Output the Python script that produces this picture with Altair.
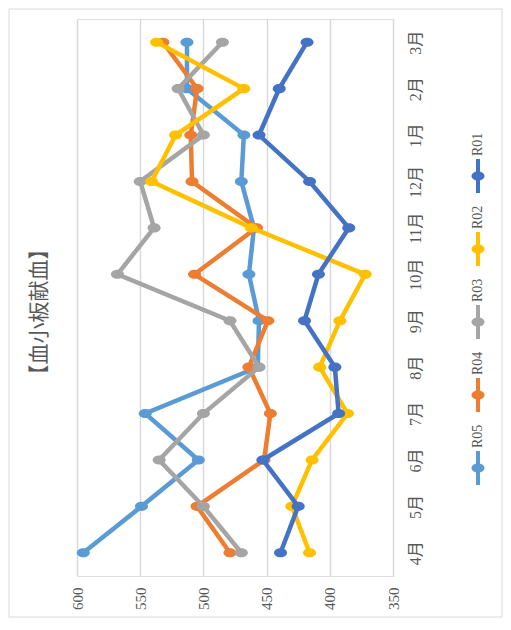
import altair as alt
import pandas as pd

# ---- data ----
months = ["4月", "5月", "6月", "7月", "8月", "9月", "10月", "11月", "12月", "1月", "2月", "3月"]
series = ["R01", "R02", "R03", "R04", "R05"]
colors = ["#4472C4", "#FFC000", "#A5A5A5", "#ED7D31", "#5B9BD5"]
r01 = [439, 425, 453, 393, 396, 420, 409, 385, 416, 456, 440, 418]
r02 = [416, 430, 414, 386, 408, 392, 372, 462, 541, 522, 468, 537]
r03 = [470, 500, 535, 500, 456, 479, 568, 539, 550, 500, 520, 485]
r04 = [479, 505, 452, 447, 464, 449, 507, 458, 509, 510, 505, 532]
r05 = [595, 549, 504, 546, 457, 456, 464, 460, 470, 468, 513, 513]
value_ticks = [350, 400, 450, 500, 550, 600]
title_text = "【血小板献血】"

values = {"R01": r01, "R02": r02, "R03": r03, "R04": r04, "R05": r05}
rows = []
for s in series:
    for i, (m, v) in enumerate(zip(months, values[s])):
        rows.append({"series": s, "month": m, "mi": i, "value": v})
df = pd.DataFrame(rows)

FONT = "Liberation Serif, Noto Sans CJK JP"
LABEL = "#595959"
W, H = 316, 557
ELLIPSE = "M-1,0A1,0.7,0,1,1,1,0A1,0.7,0,1,1,-1,0Z"

x_enc = alt.X(
    "value:Q",
    scale=alt.Scale(domain=[350, 600], reverse=True, nice=False, zero=False),
    axis=alt.Axis(values=value_ticks, grid=True, gridColor="#d9d9d9", gridWidth=1.5,
                  domain=False, ticks=False, labelAngle=270, labelAlign="right",
                  labelBaseline="middle", labelPadding=11, labelFontSize=15,
                  labelColor=LABEL, labelFont=FONT, title=None),
)
y_enc = alt.Y(
    "month:N",
    sort=months[::-1],
    scale=alt.Scale(type="point", padding=0.5),
    axis=alt.Axis(orient="right", labelAngle=270, labelAlign="center", labelBaseline="top",
                  labelPadding=14, domain=False, ticks=False, grid=False, labelFontSize=16,
                  labelColor=LABEL, labelFont=FONT, title=None),
)

layers = []

frame = alt.Chart(pd.DataFrame({"k": [0]})).mark_rect(
    fill="transparent", stroke="#d9d9d9", strokeWidth=1
).encode(x=alt.value(-68), x2=alt.value(425), y=alt.value(-10), y2=alt.value(598))
layers.append(frame)

title = alt.Chart(pd.DataFrame({"t": [title_text]})).mark_text(
    angle=270, fontSize=21, font=FONT, color=LABEL, align="center", baseline="middle"
).encode(x=alt.value(-37), y=alt.value(293), text="t:N")
layers.append(title)

for s, c in reversed(list(zip(series, colors))):
    sub = df[df.series == s]
    base = alt.Chart(sub).encode(x=x_enc, y=y_enc, order=alt.Order("mi:Q"))
    layers.append(base.mark_line(color=c, strokeWidth=4.5))
    layers.append(base.mark_point(shape=ELLIPSE, size=169, filled=True, color=c, opacity=1))

# legend (rotated, drawn by hand)
leg = pd.DataFrame({"series": series, "color": colors, "li": list(range(len(series)))})
leg_base = alt.Chart(leg).transform_calculate(
    ly="157 + datum.li * 73", y1="157 + datum.li * 73 - 17", y2="157 + datum.li * 73 + 17",
    ty="157 + datum.li * 73 - 20",
)
layers.append(leg_base.mark_rule(strokeWidth=4).encode(
    x=alt.value(401), y=alt.Y("y1:Q", scale=None, axis=None), y2="y2:Q",
    color=alt.Color("color:N", scale=None)))
layers.append(leg_base.mark_point(shape=ELLIPSE, size=169, filled=True, opacity=1).encode(
    x=alt.value(401), y=alt.Y("ly:Q", scale=None, axis=None),
    color=alt.Color("color:N", scale=None)))
layers.append(leg_base.mark_text(angle=270, align="left", baseline="middle", fontSize=14,
                                 font=FONT, color=LABEL).encode(
    x=alt.value(401), y=alt.Y("ty:Q", scale=None, axis=None), text="series:N"))

chart = alt.layer(*layers).properties(
    width=W, height=H,
    autosize=alt.AutoSizeParams(type="none"),
    padding={"left": 69, "top": 11, "right": 110, "bottom": 42},
).configure_view(stroke=None).configure(background="white")

chart.save("out.html", embed_options={"renderer": "svg", "actions": False})
